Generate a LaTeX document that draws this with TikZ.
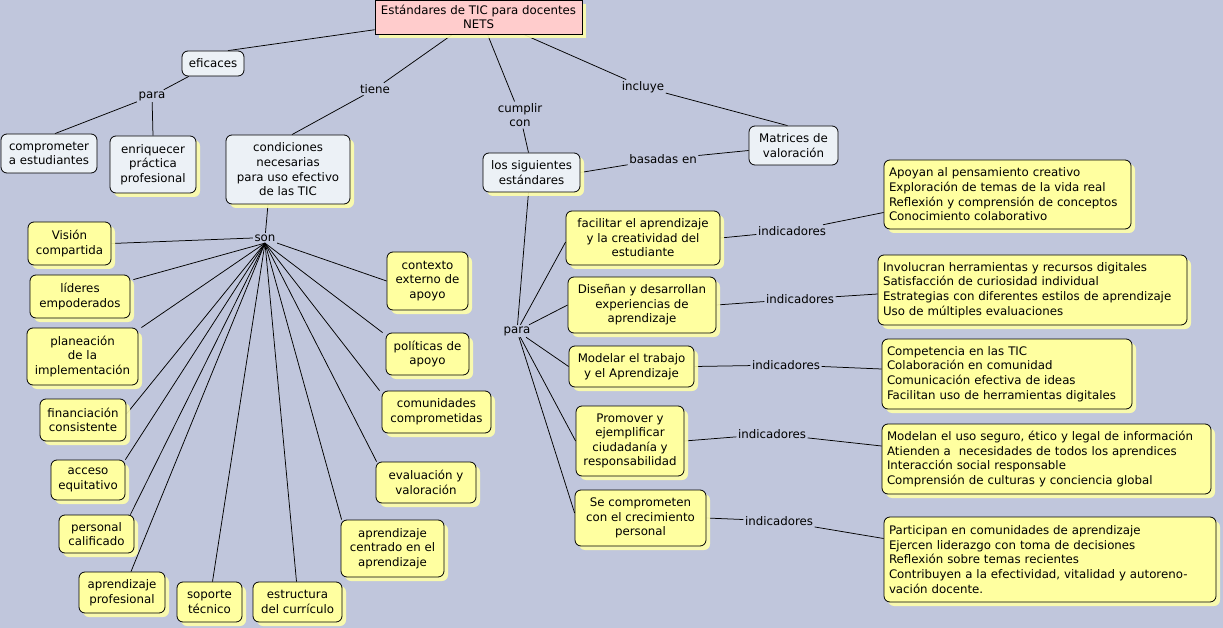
\documentclass[tikz,border=0pt]{standalone}
\usepackage{fontspec}
\setmainfont{DejaVu Sans}
\usetikzlibrary{shadows}
\pgfdeclarelayer{bglayer}
\pgfdeclarelayer{linelayer}
\pgfsetlayers{bglayer,linelayer,main}
\definecolor{bgcol}{RGB}{192,198,220}
\definecolor{yelbox}{RGB}{255,255,160}
\definecolor{litbox}{RGB}{236,241,246}
\definecolor{pinkbox}{RGB}{255,204,204}
\definecolor{shadyel}{RGB}{255,255,170}
\tikzset{
  basebox/.style={draw=black, line width=0.8pt, rounded corners=6pt, align=center, inner sep=2pt,
    font=\fontsize{11.8}{14.6}\selectfont},
  ybox/.style={basebox, fill=yelbox, drop shadow={shadow xshift=4pt, shadow yshift=-4pt, fill=shadyel, opacity=0.9}},
  lbox/.style={basebox, fill=litbox},
  lboxs/.style={basebox, fill=litbox, drop shadow={shadow xshift=4pt, shadow yshift=-4pt, fill=shadyel, opacity=0.9}},
  ibox/.style={ybox, align=left, inner xsep=5pt},
  lbl/.style={inner sep=1.5pt, align=center, font=\fontsize{11.8}{14.6}\selectfont},
  conn/.style={draw=black, line width=0.75pt},
}
\newcommand{\bx}[6]{\node[#1, minimum width=#4pt, minimum height=#5pt] (#2) at #3 {#6};}
\begin{document}
\begin{tikzpicture}[x=1pt,y=-1pt]
\begin{pgfonlayer}{bglayer}
\fill[bgcol] (0,0) rectangle (1223,628);
\end{pgfonlayer}
\useasboundingbox (0,0) rectangle (1223,628);

% top
\node[basebox, rounded corners=0pt, fill=pinkbox, minimum width=207pt, minimum height=34pt,
  drop shadow={shadow xshift=4pt, shadow yshift=-4pt, fill=shadyel, opacity=0.9}] (top) at (478.5,17) {Estándares de TIC para docentes\\NETS};

\bx{lbox}{efi}{(213,63.5)}{62}{25}{eficaces}
\bx{lbox}{comp}{(49,153.5)}{96}{39}{comprometer\\a estudiantes}
\bx{lboxs}{enr}{(153,164.5)}{86}{57}{enriquecer\\práctica\\profesional}
\bx{lboxs}{cond}{(288,169.5)}{124}{69}{condiciones\\necesarias\\para uso efectivo\\de las TIC}
\bx{lboxs}{sig}{(531.5,172.5)}{97}{39}{los siguientes\\estándares}
\bx{lbox}{mat}{(793.5,145.5)}{89}{39}{Matrices de\\valoración}

\bx{ybox}{fac}{(643,238)}{154}{54}{facilitar el aprendizaje\\y la creatividad del\\estudiante}
\bx{ybox}{dis}{(642,305)}{148}{56}{Diseñan y desarrollan\\experiencias de\\aprendizaje}
\bx{ybox}{mod}{(631.5,366.5)}{125}{41}{Modelar el trabajo\\y el Aprendizaje}
\bx{ybox}{pro}{(630,441)}{108}{70}{Promover y\\ejemplificar\\ciudadanía y\\responsabilidad}
\bx{ybox}{sec}{(640.5,518)}{131}{56}{Se comprometen\\con el crecimiento\\personal}

\node[ibox, text width=237pt, minimum height=69pt] (i1) at (1007.5,194.5) {Apoyan al pensamiento creativo\\Exploración de temas de la vida real\\Reflexión y comprensión de conceptos\\Conocimiento colaborativo};
\node[ibox, text width=299pt, minimum height=70pt] (i2) at (1032.5,290) {Involucran herramientas y recursos digitales\\Satisfacción de curiosidad individual\\Estrategias con diferentes estilos de aprendizaje\\Uso de múltiples evaluaciones};
\node[ibox, text width=240pt, minimum height=70pt] (i3) at (1007,374) {Competencia en las TIC\\Colaboración en comunidad\\Comunicación efectiva de ideas\\Facilitan uso de herramientas digitales};
\node[ibox, text width=319pt, minimum height=70pt] (i4) at (1046.5,459) {Modelan el uso seguro, ético y legal de información\\Atienden a\ \ necesidades de todos los aprendices\\Interacción social responsable\\Comprensión de culturas y conciencia global};
\node[ibox, text width=322pt, minimum height=85pt] (i5) at (1050,559.5) {Participan en comunidades de aprendizaje\\Ejercen liderazgo con toma de decisiones\\Reflexión sobre temas recientes\\Contribuyen a la efectividad, vitalidad y autoreno-\\vación docente.};

\bx{ybox}{vis}{(69.5,243.5)}{83}{43}{Visión\\compartida}
\bx{ybox}{lid}{(80,296.5)}{100}{43}{líderes\\empoderados}
\bx{ybox}{pla}{(82.5,356.5)}{111}{57}{planeación\\de la\\implementación}
\bx{ybox}{fin}{(83,420)}{86}{42}{financiación\\consistente}
\bx{ybox}{acc}{(88,480)}{74}{40}{acceso\\equitativo}
\bx{ybox}{per}{(96.5,534)}{75}{38}{personal\\calificado}
\bx{ybox}{apr}{(122,592.5)}{86}{41}{aprendizaje\\profesional}
\bx{ybox}{sop}{(209.5,602)}{65}{40}{soporte\\técnico}
\bx{ybox}{est}{(297.5,602)}{89}{40}{estructura\\del currículo}
\bx{ybox}{cen}{(392.5,548.5)}{103}{57}{aprendizaje\\centrado en el\\aprendizaje}
\bx{ybox}{eva}{(426,482.5)}{100}{41}{evaluación y\\valoración}
\bx{ybox}{com}{(436.5,412)}{109}{42}{comunidades\\comprometidas}
\bx{ybox}{pol}{(427.5,354)}{83}{42}{políticas de\\apoyo}
\bx{ybox}{ctx}{(427.5,281)}{81}{58}{contexto\\externo de\\apoyo}

% labels
\node[lbl] (para1) at (152,96) {para};
\node[lbl] (tiene) at (375,89) {tiene};
\node[lbl] (cum) at (520,115) {cumplir\\con};
\node[lbl] (inc) at (643,87) {incluye};
\node[lbl] (bas) at (663,159) {basadas en};
\node[lbl] (son) at (265,238) {son};
\node[lbl] (para2) at (517,331) {para};
\node[lbl] (ind1) at (792,231) {indicadores};
\node[lbl] (ind2) at (800,299) {indicadores};
\node[lbl] (ind3) at (786,365) {indicadores};
\node[lbl] (ind4) at (772,434) {indicadores};
\node[lbl] (ind5) at (779,521) {indicadores};

% connectors
\begin{pgfonlayer}{linelayer}
\draw[conn] (top.187) -- ([xshift=15pt]efi.north);
\draw[conn] (efi) -- (para1);
\draw[conn] (para1) -- ([xshift=6pt]comp.north);
\draw[conn] (para1) -- (enr.north);
\draw[conn] ([xshift=-26pt]top.south) -- (tiene);
\draw[conn] (tiene) -- ([xshift=4pt]cond.north);
\draw[conn] ([xshift=9pt]top.south) -- (cum);
\draw[conn] (cum) -- ([xshift=-3pt]sig.north);
\draw[conn] ([xshift=45pt]top.south) -- (inc);
\draw[conn] (inc) -- ([xshift=-6pt]mat.north);
\draw[conn] (sig.east) -- (bas);
\draw[conn] (bas) -- ([yshift=-5pt]mat.west);
\draw[conn] ([xshift=-20pt]cond.south) -- (son);
\draw[conn] ([xshift=-3pt]sig.south) -- (para2);
\draw[conn] (para2) -- ([yshift=-4pt]fac.west);
\draw[conn] (para2) -- (dis.west);
\draw[conn] (para2) -- (mod.west);
\draw[conn] (para2) -- (pro.west);
\draw[conn] (para2) -- ([yshift=5pt]sec.west);
\draw[conn] (fac.east) -- (ind1); \draw[conn] (ind1) -- ([yshift=-18pt]i1.west);
\draw[conn] (dis.east) -- (ind2); \draw[conn] (ind2) -- ([yshift=-4pt]i2.west);
\draw[conn] (mod.east) -- (ind3); \draw[conn] (ind3) -- ([yshift=5pt]i3.west);
\draw[conn] (pro.east) -- (ind4); \draw[conn] (ind4) -- ([yshift=13pt]i4.west);
\draw[conn] (sec.east) -- (ind5); \draw[conn] (ind5) -- ([yshift=21pt]i5.west);
\draw[conn] (son.west) -- (vis.east);
\draw[conn] (son.south) -- ([xshift=3pt,yshift=-5pt]lid.north east);
\draw[conn] (son.south) -- ([xshift=3pt]pla.north east);
\draw[conn] (son.south) -- ([yshift=6pt]fin.east);
\draw[conn] (son.south) -- (acc.north east);
\draw[conn] (son.south) -- ([xshift=-4pt]per.north east);
\draw[conn] (son.south) -- ([xshift=9pt]apr.north);
\draw[conn] (son.south) -- ([xshift=3pt]sop.north);
\draw[conn] (son.south) -- ([xshift=-1pt]est.north);
\draw[conn] (son.south) -- ([xshift=1pt]cen.north west);
\draw[conn] (son.south) -- ([xshift=1pt]eva.north west);
\draw[conn] (son.south) -- ([xshift=-2pt]com.north west);
\draw[conn] (son.south) -- ([xshift=-3pt]pol.north west);
\draw[conn] (son.south east) -- (ctx.west);
\end{pgfonlayer}
\end{tikzpicture}
\end{document}
